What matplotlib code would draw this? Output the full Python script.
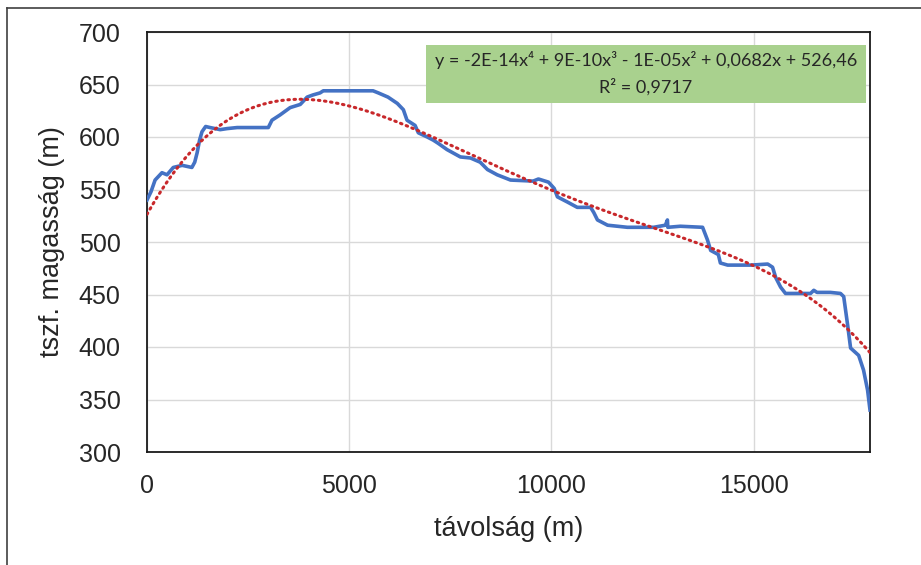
import numpy as np
import matplotlib.pyplot as plt
from matplotlib.patches import Rectangle
from matplotlib.lines import Line2D

# profile
distance = [0, 100, 200, 370, 495, 650, 870, 1110, 1180, 1240, 1300, 1360, 1450, 1560,
            1810, 1980, 2230, 3000, 3090, 3290, 3540, 3790, 3960, 4100, 4280, 4360,
            5590, 5720, 5960, 6190, 6340, 6430, 6630, 6710, 6930, 7080, 7200, 7420,
            7750, 8000, 8240, 8420, 8660, 8990, 9550, 9680, 9930, 10070, 10150, 10400,
            10640, 10970, 11050, 11140, 11390, 11880, 12530, 12820, 12870, 12880,
            13190, 13740, 13860, 13940, 14130, 14180, 14360, 14930, 15350, 15470,
            15550, 15670, 15790, 16410, 16490, 16570, 16900, 17150, 17230, 17330,
            17400, 17600, 17720, 17820, 17880]
elevation = [540, 548, 559, 566, 564, 571, 573, 571, 576, 585, 597, 605, 610, 609,
             607, 608, 609, 609, 616, 621, 628, 631, 638, 640, 642, 644,
             644, 642, 638, 632, 626, 616, 611, 604, 600, 597, 594, 588,
             581, 580, 576, 569, 564, 559, 558, 560, 557, 551, 543, 538,
             533, 533, 528, 521, 516, 514, 514, 516, 521, 514,
             515, 514, 502, 492, 488, 480, 478, 478, 479, 476,
             466, 457, 451, 451, 454, 452, 452, 451, 448, 420,
             399, 392, 378, 359, 340]

eq_line1 = "y = -2E-14x\u2074 + 9E-10x\u00b3 - 1E-05x\u00b2 + 0,0682x + 526,46"
eq_line2 = "R\u00b2 = 0,9717"

x = np.array(distance, dtype=float)
y = np.array(elevation, dtype=float)

# 4th order trendline, fitted on the profile sampled evenly along x
xs = np.linspace(0, x.max(), 2000)
coef = np.polyfit(xs, np.interp(xs, x, y), 4)
xt = np.linspace(0, x.max(), 300)
yt = np.polyval(coef, xt)

plt.rcParams['font.family'] = ['Liberation Sans', 'DejaVu Sans']

fig = plt.figure(figsize=(9.21, 5.65), dpi=100)
ax = fig.add_axes([147 / 921, 1 - 452 / 565, 723 / 921, 420 / 565])

ax.plot(x, y, color='#4472C4', lw=2.6, zorder=3, solid_joinstyle='round')
ax.plot(xt, yt, color='#C8282B', lw=2.2, linestyle=(0, (0.5, 1.5)),
        dash_capstyle='round', zorder=4)

ax.set_xlim(0, x.max())
ax.set_ylim(300, 700)
ax.set_xticks([0, 5000, 10000, 15000])
ax.set_yticks(range(300, 701, 50))
ax.grid(True, color='#d9d9d9', lw=1)
ax.set_axisbelow(True)
ax.tick_params(length=0, labelsize=18, colors='#262626')
ax.tick_params(axis='y', pad=19)
ax.tick_params(axis='x', pad=16)
for s in ax.spines.values():
    s.set_color('#1a1a1a')
    s.set_linewidth(1.3)

ax.set_xlabel('távolság (m)', fontsize=19.5, color='#262626', labelpad=13)
ax.set_ylabel('tszf. magasság (m)', fontsize=19.5, color='#262626', labelpad=10)

# trendline label box
ax.add_patch(Rectangle((0.386, 0.831), 0.608, 0.138, transform=ax.transAxes,
                       fc='#A9D18E', ec='none', zorder=5))
ax.text(0.69, 0.933, eq_line1, transform=ax.transAxes, ha='center', va='center',
        fontsize=13, color='#262626', family=['Lato', 'DejaVu Sans'], zorder=6)
ax.text(0.69, 0.869, eq_line2, transform=ax.transAxes, ha='center', va='center',
        fontsize=13, color='#262626', family=['Lato', 'DejaVu Sans'], zorder=6)

# outer frame (left and top edges)
fig.add_artist(Line2D([7 / 921, 7 / 921], [0, 1 - 8 / 565], transform=fig.transFigure,
                      color='#404040', lw=1.2))
fig.add_artist(Line2D([7 / 921, 1], [1 - 8 / 565, 1 - 8 / 565], transform=fig.transFigure,
                      color='#404040', lw=1.2))

fig.savefig('out.png', dpi=100)
